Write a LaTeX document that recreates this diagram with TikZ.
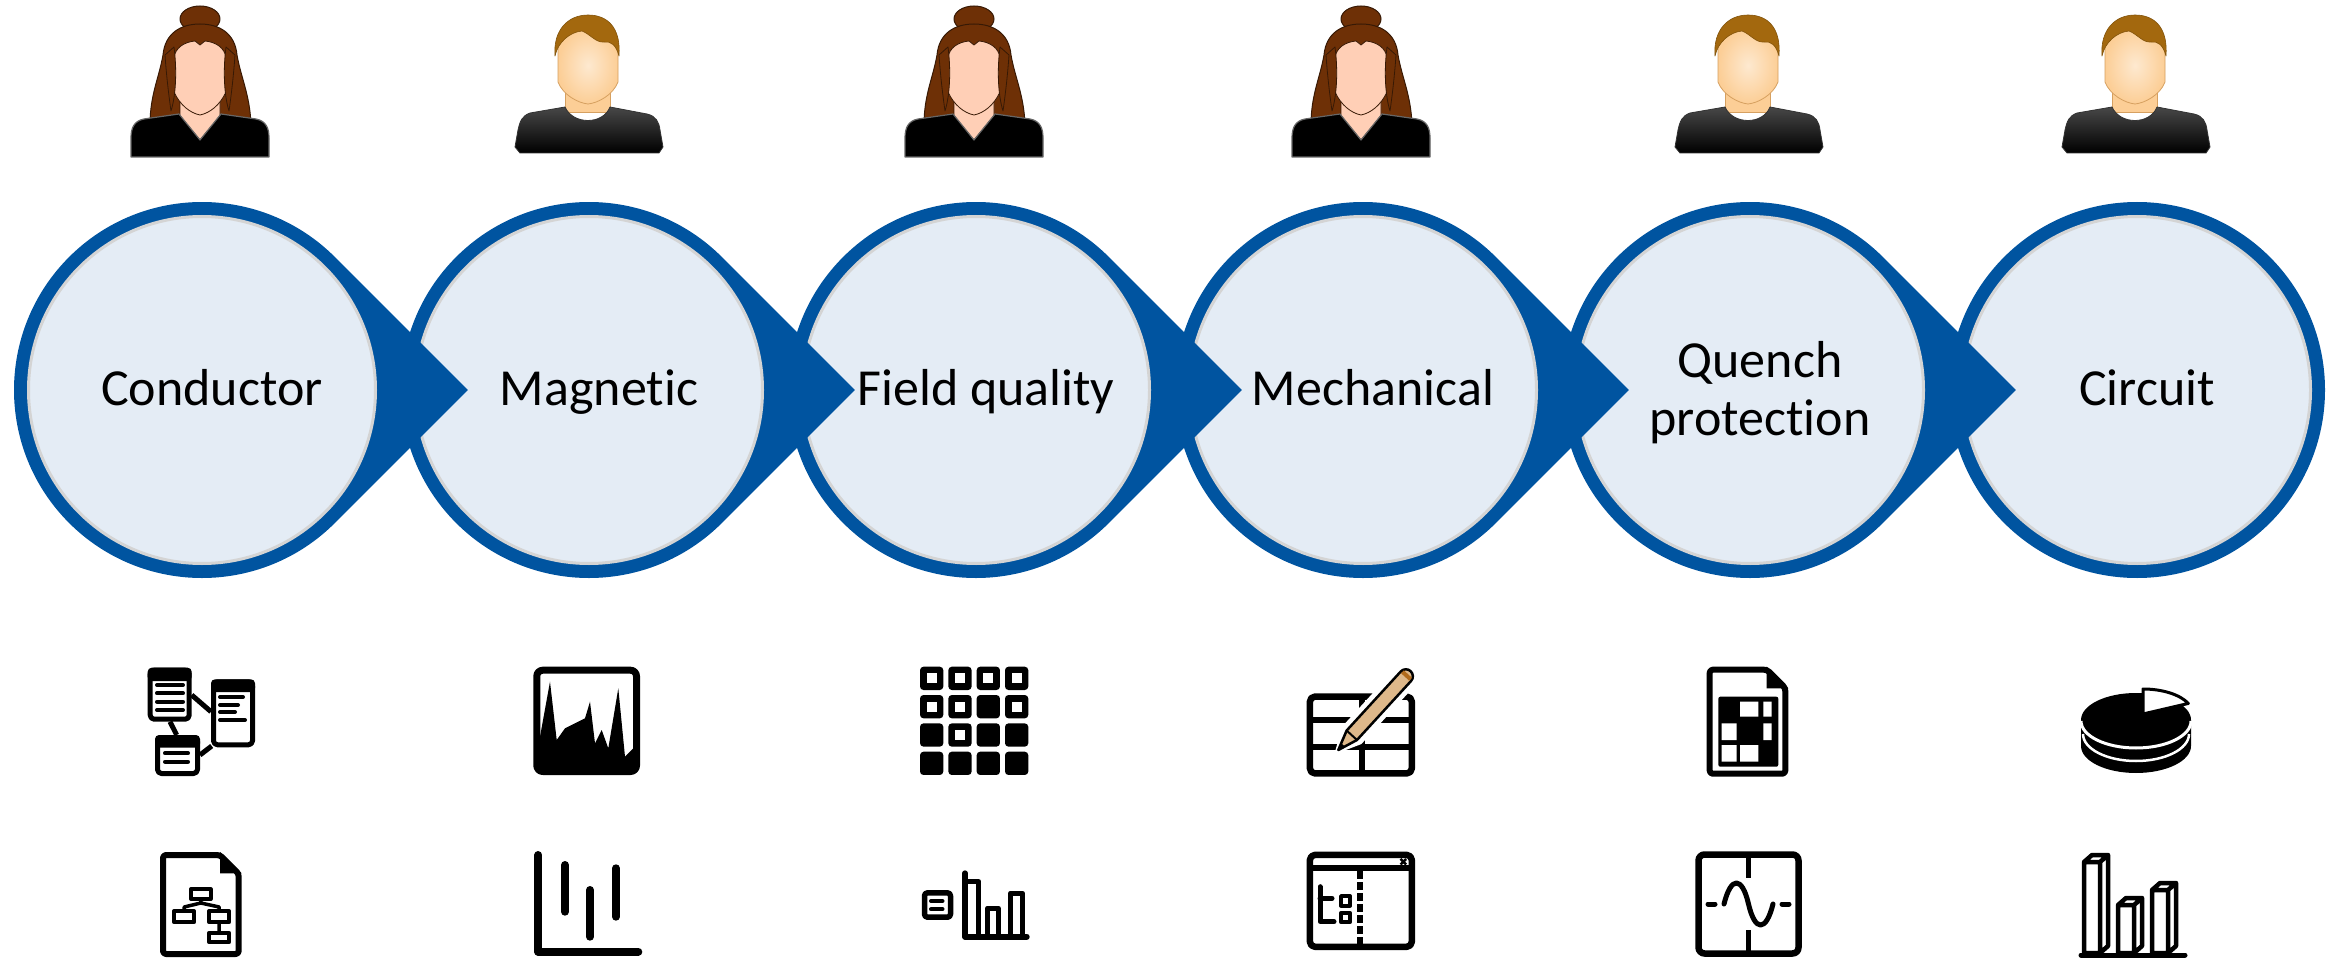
\documentclass[tikz,border=0pt]{standalone}
\usepackage{fontspec}
\setmainfont{Carlito}[Ligatures=NoCommon]
\begin{document}
\begin{tikzpicture}[x=1pt,y=-1pt,line join=round]
\definecolor{ringblue}{RGB}{0,84,160}
\definecolor{discfill}{RGB}{228,236,245}
\definecolor{discedge}{RGB}{212,212,212}
\definecolor{hairbrown}{RGB}{110,48,6}
\definecolor{hairdark}{RGB}{55,25,5}
\definecolor{skinw}{RGB}{255,207,182}
\definecolor{skinm}{RGB}{252,206,150}
\definecolor{skinmline}{RGB}{214,160,96}
\definecolor{hairm}{RGB}{163,104,14}
\definecolor{pencilbody}{RGB}{222,184,138}
\definecolor{pencilband}{RGB}{176,106,28}
\tikzset{
  steplabel/.style={font=\fontsize{52}{58}\selectfont, align=center, inner sep=0pt},
  thick icon/.style={line width=6pt, line cap=round, line join=round},
  thin icon/.style={line width=4pt, line cap=round, line join=round},
  pics/woman/.style={code={
    % bun and long hair behind the head
    \filldraw[fill=hairbrown, draw=hairdark, line width=1pt] (0,19) ellipse[x radius=20, y radius=13];
    \filldraw[fill=hairbrown, draw=hairdark, line width=1pt]
      (-50,125) .. controls (-50,95) and (-41,78) .. (-37,55)
      .. controls (-35,33) and (-19,24) .. (0,24)
      .. controls (19,24) and (35,33) .. (37,55)
      .. controls (41,78) and (50,95) .. (51,125) -- cycle;
    % neck
    \filldraw[fill=skinw, draw=hairdark, line width=0.8pt] (-20,92) -- (-20,116) -- (0,140) -- (20,116) -- (20,92) -- cycle;
    % top with V neckline
    \filldraw[fill=black, draw=black!60, line width=1.2pt]
      (-21,114) -- (0,140) -- (21,114) -- (56,119)
      .. controls (66,121) and (69,128) .. (69,138) -- (69,157) -- (-69,157) -- (-69,138)
      .. controls (-69,128) and (-66,121) .. (-56,119) -- cycle;
    % face
    \filldraw[fill=skinw, draw=hairdark, line width=0.8pt]
      (-5,41) -- (0,45) -- (5,41) .. controls (16,42) and (25,48) .. (26,58) -- (26,92)
      .. controls (20,105) and (10,113) .. (0,115)
      .. controls (-10,113) and (-20,105) .. (-26,92) -- (-26,58)
      .. controls (-25,48) and (-16,42) .. (-5,41) -- cycle;
    % strands along the cheeks
    \filldraw[fill=hairbrown, draw=hairdark, line width=0.8pt]
      (-26,47) .. controls (-23,70) and (-24,95) .. (-29,111) .. controls (-32,90) and (-34,70) .. (-35,55) -- cycle;
    \filldraw[fill=hairbrown, draw=hairdark, line width=0.8pt]
      (26,47) .. controls (23,70) and (24,95) .. (29,111) .. controls (32,90) and (34,70) .. (35,55) -- cycle;
  }},
  pics/man/.style={code={
    % neck
    \filldraw[fill=skinm, draw=skinmline, line width=0.8pt] (-23,82) -- (-23,112) -- (22,112) -- (22,82) -- cycle;
    % shirt
    \path[top color=black!72, bottom color=black, draw=black!80, line width=0.8pt]
      (-23,107) .. controls (-15,125) and (15,125) .. (22,107) -- (59,114)
      .. controls (68,116) and (71,122) .. (72,130) -- (75,147) -- (71,153) -- (-68,153) -- (-73,147) -- (-70,130)
      .. controls (-68,121) and (-66,116) .. (-58,113) -- cycle;
    % face
    \path[inner color=skinm!45!white, outer color=skinm, draw=skinmline, line width=0.8pt]
      (-30,40) -- (-30,82) .. controls (-25,95) and (-10,103) .. (0,104)
      .. controls (10,103) and (25,95) .. (30,82) -- (30,40)
      .. controls (28,30) and (15,27) .. (0,27) .. controls (-15,27) and (-28,30) .. (-30,40) -- cycle;
    % hair
    \filldraw[fill=hairm, draw=hairm!80!black, line width=0.6pt]
      (-33,56) .. controls (-35,30) and (-20,15) .. (0,15)
      .. controls (20,15) and (33,28) .. (31,56)
      .. controls (28,45) and (23,41) .. (16,42)
      .. controls (8,43) and (2,34) .. (-6,31)
      .. controls (-18,32) and (-30,42) .. (-33,56) -- cycle;
  }}
}
\useasboundingbox (0,0) rectangle (2338,960);
\fill[white] (0,0) rectangle (2338,960);

% ---- process chain: discs with arrow heads, drawn right to left ----
\foreach \i in {5,4,3,2,1,0}{
  \pgfmathsetmacro{\cx}{202+387*\i}
  \ifnum\i<5
    \fill[ringblue] (\cx+265.9,390) -- (\cx+132.94,390+132.94)
      arc[start angle=45, end angle=315, radius=188] -- cycle;
  \else
    \fill[ringblue] (\cx,390) circle[radius=188];
  \fi
  \filldraw[fill=discfill, draw=discedge, line width=3pt] (\cx,390) circle[radius=173.5];
}

\node[steplabel, anchor=base] (conductor)  at (212,405)  {Conductor};
\node[steplabel, anchor=base] (magnetic)   at (599,405)  {Magnetic};
\node[steplabel, anchor=base] (fieldq)     at (986,405)  {Field quality};
\node[steplabel, anchor=base] (mechanical) at (1373,405) {Mechanical};
\node[steplabel, anchor=center] (quench)   at (1760,393) {Quench\\protection};
\node[steplabel, anchor=base] (circuit)    at (2147,405) {Circuit};

% ---- people ----
\pic at (200,0) {woman};
\pic at (588,0) {man};
\pic at (974,0) {woman};
\pic at (1361,0) {woman};
\pic at (1748,0) {man};
\pic at (2135,0) {man};

% ---- icons: conductor ----
\draw[line width=5pt, rounded corners=4pt] (150.2,670.2) rectangle (189.2,719.2);
\fill[rounded corners=4pt] (147.7,667.7) rectangle (191.7,681);
\draw[thin icon] (157,685) -- (183,685) (157,693.3) -- (183,693.3) (157,701.7) -- (183,701.7) (157,710) -- (183,710);
\draw[line width=5pt, rounded corners=4pt] (213.5,681.8) rectangle (252.5,744.8);
\fill[rounded corners=4pt] (211,679.3) rectangle (255,692);
\draw[thin icon] (220,697) -- (243,697) (220,705) -- (238,705) (220,712) -- (235,712) (220,720) -- (245,720);
\draw[line width=5pt, rounded corners=4pt] (157.5,737.5) rectangle (197.5,773.5);
\fill[rounded corners=4pt] (155,735) rectangle (200,747.5);
\draw[thin icon] (165,753.3) -- (188,753.3) (165,761.7) -- (188,761.7);
\draw[line width=5pt] (191.7,695) -- (211,711.7) (170,721.7) -- (176.7,735) (200,755) -- (211.7,746);

\draw[line width=6pt, rounded corners=3pt] (163,855) -- (220,855) -- (238.7,873.7) -- (238.7,954) -- (163,954) -- cycle;
\fill (220,852) -- (220,873.3) -- (241.7,873.3) -- cycle;
\draw[line width=4pt] (191,889.3) rectangle (210.7,899);
\draw[line width=4pt] (174.3,911) rectangle (194,922.3);
\draw[line width=4pt] (209.3,911) rectangle (229,922.3);
\draw[line width=4pt] (209.3,932.7) rectangle (229,942.3);
\draw[line width=3.5pt] (200.8,899) -- (200.8,903) -- (184.2,907) -- (184.2,911)
  (200.8,903) -- (219.2,907) -- (219.2,911) (219.2,922.3) -- (219.2,932.7);

% ---- icons: magnetic ----
\draw[line width=7pt, rounded corners=6pt] (536.8,670.2) rectangle (636.5,771.5);
\fill (540,773.3) -- (540,736.7) -- (550,681.7) -- (556.7,740) -- (565,728.3) -- (585,718.3)
  -- (590,701.7) -- (595,743.3) -- (601.7,730) -- (608.3,748.3) -- (618.3,688.3) -- (625,756.7)
  -- (635,746.7) -- (635,773.3) -- cycle;
\draw[line width=8pt, line cap=round] (538.3,855) -- (538.3,951.7) -- (638.3,951.7);
\draw[line width=8pt, line cap=round] (565,865) -- (565,911.7) (590,890) -- (590,936.7) (616,868.3) -- (616,916.7);

% ---- icons: field quality ----
\foreach \r/\row in {0/{1,1,1,1},1/{1,1,0,1},2/{0,1,0,0},3/{0,0,0,0}}{
  \foreach \h [count=\c from 0] in \row {
    \pgfmathsetmacro{\gx}{920+28.33*\c}
    \pgfmathsetmacro{\gy}{666.7+28.33*\r}
    \fill[rounded corners=3.5pt] (\gx,\gy) rectangle (\gx+23.3,\gy+23.3);
    \ifnum\h=1
      \fill[white] (\gx+6.65,\gy+6.65) rectangle (\gx+16.65,\gy+16.65);
    \fi
  }
}
\draw[line width=5.5pt, rounded corners=3pt] (924.5,892.8) rectangle (950.5,917.2);
\draw[thin icon] (931,901) -- (942.5,901) (931,909.3) -- (942.5,909.3);
\draw[line width=6pt, line cap=round] (965,873.3) -- (965,936.7) -- (1026.7,936.7);
\draw[line width=5.5pt] (965,881.7) -- (978.5,881.7) -- (978.5,936.7)
  (987.5,936.7) -- (987.5,908.3) -- (998.3,908.3) -- (998.3,936.7)
  (1010.5,936.7) -- (1010.5,893.3) -- (1022.5,893.3) -- (1022.5,936.7);

% ---- icons: mechanical ----
\draw[line width=6.5pt, rounded corners=5pt] (1309.9,696.6) rectangle (1411.8,773.4);
\draw[line width=6pt] (1310,720) -- (1412,720) (1310,746.7) -- (1412,746.7) (1361.7,697) -- (1361.7,773);
\begin{scope}[shift={(1338.3,750)}, rotate=47.5]
  \fill[white] (-6,0) -- (20,-13) -- (104,-13) arc[start angle=-90, end angle=90, radius=13] -- (20,13) -- cycle;
  \filldraw[fill=pencilbody, draw=black, line width=2.5pt]
    (0,0) -- (20,-7) -- (100,-7) arc[start angle=-90, end angle=90, radius=7] -- (20,7) -- cycle;
  \fill[pencilband] (99,-5.5) rectangle (103,5.5);
  \fill (0,0) -- (7,-2.6) -- (7,2.6) -- cycle;
  \draw[line width=2pt] (20,-7) -- (20,7);
\end{scope}
\draw[line width=6.5pt, rounded corners=5pt] (1309.9,854.9) rectangle (1411.8,946.8);
\draw[line width=6pt] (1310,868.3) -- (1412,868.3);
\draw[line width=2.5pt] (1400.5,858.9) -- (1406.1,864.5) (1400.5,864.5) -- (1406.1,858.9);
\draw[line width=6.5pt, dash pattern=on 8pt off 3pt] (1360,871) -- (1360,947);
\draw[line width=5pt, line cap=round] (1320,886.7) -- (1320,921.7) -- (1334,921.7) (1320,898.3) -- (1332,898.3);
\draw[line width=3.8pt] (1341,896) rectangle (1350,905.7) (1341,912.7) rectangle (1350,922.3);

% ---- icons: quench protection ----
\draw[line width=6pt, rounded corners=3pt] (1709.7,669.7) -- (1767,669.7) -- (1785.3,688) -- (1785.3,773.7) -- (1709.7,773.7) -- cycle;
\fill (1766.7,666.7) -- (1766.7,688.3) -- (1788.3,688.3) -- cycle;
\fill[rounded corners=2pt] (1718.3,696.7) rectangle (1778.3,766.7);
\fill[white] (1740,701.7) rectangle (1758.3,716.7) (1763.3,701.7) rectangle (1771.7,716.7)
  (1721.7,723.3) rectangle (1736.7,740) (1763.3,723.3) rectangle (1771.7,740)
  (1721.7,745) rectangle (1736.7,761.7) (1740,745) rectangle (1758.3,761.7);
\draw[line width=6.5pt, rounded corners=6pt] (1698.5,854.5) rectangle (1798.5,953.5);
\draw[line width=5pt] (1748.5,855) -- (1748.5,878) (1748.5,930) -- (1748.5,953);
\draw[line width=5pt, line cap=round] (1708,904) -- (1715,904) (1782,904) -- (1789,904);
\draw[line width=5pt, line cap=round] (1724,904) .. controls (1731,876) and (1742,876) .. (1748.5,904)
  .. controls (1755,932) and (1766,932) .. (1773,904);

% ---- icons: circuit ----
\fill (2081,720) -- (2081,746) arc[start angle=180, end angle=0, x radius=55, y radius=27] -- (2191,720) -- cycle;
\fill (2136,720) ellipse[x radius=55, y radius=27];
\draw[white, line width=3pt] (2081,721) arc[start angle=180, end angle=0, x radius=55, y radius=27];
\draw[white, line width=2.5pt] (2083,734) arc[start angle=180, end angle=0, x radius=53, y radius=27];
\filldraw[fill=white, draw=black, line width=3pt] (2143,714) -- (2143,689) arc[start angle=270, end angle=335, x radius=50, y radius=25] -- cycle;
\draw[line width=4.5pt, line join=round, fill=white]
  (2084,953) -- (2084,862) -- (2092,855) -- (2108,855) -- (2108,946) -- (2100,953) -- cycle
  (2084,862) -- (2100,862) -- (2108,855) (2100,862) -- (2100,953);
\draw[line width=4.5pt, line join=round, fill=white]
  (2118,953) -- (2118,905) -- (2126,898) -- (2142,898) -- (2142,946) -- (2134,953) -- cycle
  (2118,905) -- (2134,905) -- (2142,898) (2134,905) -- (2134,953);
\draw[line width=4.5pt, line join=round, fill=white]
  (2152,953) -- (2152,890) -- (2160,883) -- (2176,883) -- (2176,946) -- (2168,953) -- cycle
  (2152,890) -- (2168,890) -- (2176,883) (2168,890) -- (2168,953);
\draw[line width=5pt, line cap=round] (2081,955) -- (2185,955);
\end{tikzpicture}
\end{document}
